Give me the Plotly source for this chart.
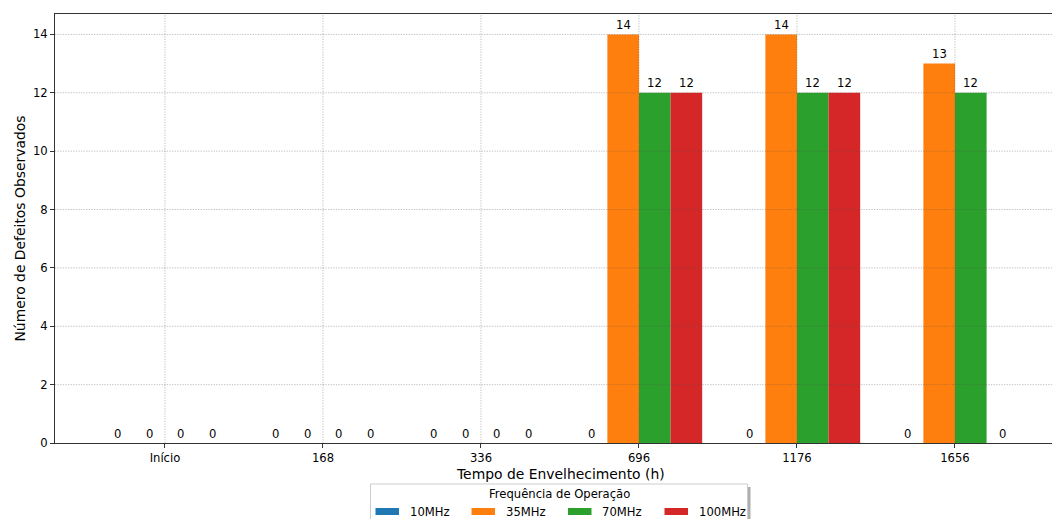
import plotly.graph_objects as go

# ---- data ----
categories = ["Início", "168", "336", "696", "1176", "1656"]
series_names = ["10MHz", "35MHz", "70MHz", "100MHz"]
values_10mhz = [0, 0, 0, 0, 0, 0]
values_35mhz = [0, 0, 0, 14, 14, 13]
values_70mhz = [0, 0, 0, 12, 12, 12]
values_100mhz = [0, 0, 0, 12, 12, 0]
y_ticks = [0, 2, 4, 6, 8, 10, 12, 14]
x_title = "Tempo de Envelhecimento (h)"
y_title = "Número de Defeitos Observados"
legend_title = "Frequência de Operação"

series_values = [values_10mhz, values_35mhz, values_70mhz, values_100mhz]
colors = ["#1f77b4", "#ff7f0e", "#2ca02c", "#d62728"]

W, H = 1052, 519
L, R, T, B = 55, 0, 14, 76
plot_w = W - L - R
plot_h = H - T - B

def px_x(px):
    return (px - L) / plot_w

def px_y(py):
    return (H - B - py) / plot_h

FONT = "DejaVu Sans"
bar_w = 0.2
n = len(series_names)

fig = go.Figure()
annotations = []
for j, (name, vals, col) in enumerate(zip(series_names, series_values, colors)):
    off = (j - (n - 1) / 2) * bar_w
    xs = [i + off for i in range(len(categories))]
    fig.add_trace(go.Bar(x=xs, y=vals, width=bar_w, name=name,
                         marker=dict(color=col, line=dict(width=0)),
                         showlegend=False))
    for x, v in zip(xs, vals):
        annotations.append(dict(x=x, y=v, xref="x", yref="y", text=str(v),
                                showarrow=False, yanchor="bottom", yshift=0.5,
                                font=dict(family=FONT, size=11.6, color="#000")))

shapes = []
grid_col = "rgba(80,80,80,0.45)"
grid_dash = "1.3px,1.3px"
for i in range(len(categories)):
    shapes.append(dict(type="line", xref="x", yref="paper", x0=i, x1=i, y0=0, y1=1,
                       line=dict(color=grid_col, width=0.8, dash=grid_dash), layer="above"))
for t in y_ticks[1:]:
    shapes.append(dict(type="line", xref="paper", yref="y", x0=0, x1=1, y0=t, y1=t,
                       line=dict(color=grid_col, width=0.8, dash=grid_dash), layer="above"))

# x axis title (centred on the full matplotlib axes, which extends past the crop)
annotations.append(dict(x=px_x(560), y=px_y(473.5), xref="paper", yref="paper",
                        text=x_title, showarrow=False, xanchor="center", yanchor="middle",
                        font=dict(family=FONT, size=13.9, color="#000")))

# ---- legend drawn manually (matplotlib-like) ----
lg_l, lg_r, lg_t, lg_b = 370.5, 747.5, 484, 530
shapes.append(dict(type="rect", xref="paper", yref="paper",
                   x0=px_x(lg_l + 3), x1=px_x(lg_r + 3), y0=px_y(lg_b + 3), y1=px_y(lg_t + 3),
                   fillcolor="rgba(110,110,110,0.55)", line=dict(width=0), layer="above"))
shapes.append(dict(type="rect", xref="paper", yref="paper",
                   x0=px_x(lg_l), x1=px_x(lg_r), y0=px_y(lg_b), y1=px_y(lg_t),
                   fillcolor="white", line=dict(color="#cccccc", width=1), layer="above"))
annotations.append(dict(x=px_x((lg_l + lg_r) / 2), y=px_y(493.5), xref="paper", yref="paper",
                        text=legend_title, showarrow=False,
                        xanchor="center", yanchor="middle",
                        font=dict(family=FONT, size=11.6, color="#000")))
patch_x = [375.5, 471.5, 568, 664.5]
for name, col, px0 in zip(series_names, colors, patch_x):
    shapes.append(dict(type="rect", xref="paper", yref="paper",
                       x0=px_x(px0), x1=px_x(px0 + 23.5), y0=px_y(515), y1=px_y(508),
                       fillcolor=col, line=dict(width=0), layer="above"))
    annotations.append(dict(x=px_x(px0 + 32), y=px_y(511.5), xref="paper", yref="paper",
                            text=name, showarrow=False, xanchor="left", yanchor="middle",
                            font=dict(family=FONT, size=11.6, color="#000")))

fig.update_layout(
    width=W, height=H,
    margin=dict(l=L, r=R, t=T, b=B, pad=0),
    plot_bgcolor="white", paper_bgcolor="white",
    font=dict(family=FONT, size=11.6, color="#000"),
    barmode="overlay",
    shapes=shapes,
    annotations=annotations,
    showlegend=False,
)
fig.update_xaxes(
    range=[-0.696, 5.614], tickvals=list(range(len(categories))), ticktext=categories,
    showgrid=False, zeroline=False, showline=True, linecolor="#333", linewidth=1,
    mirror=True, ticks="outside", ticklen=4, tickcolor="#333",
    tickfont=dict(family=FONT, size=11.6, color="#000"),
)
fig.update_yaxes(
    range=[0, 14.7], tickvals=y_ticks,
    showgrid=False, zeroline=False, showline=True, linecolor="#333", linewidth=1,
    ticks="outside", ticklen=4, tickcolor="#333",
    tickfont=dict(family=FONT, size=11.6, color="#000"),
    title=dict(text=y_title, standoff=4,
               font=dict(family=FONT, size=13.9, color="#000")),
)

fig.write_html("out.html", config={"displayModeBar": False})

# remove the browser's default body margin so the figure fills the window exactly
with open("out.html", "r", encoding="utf-8") as f:
    html = f.read()
html = html.replace("<body>", '<body style="margin:0;padding:0;overflow:hidden">', 1)
with open("out.html", "w", encoding="utf-8") as f:
    f.write(html)
